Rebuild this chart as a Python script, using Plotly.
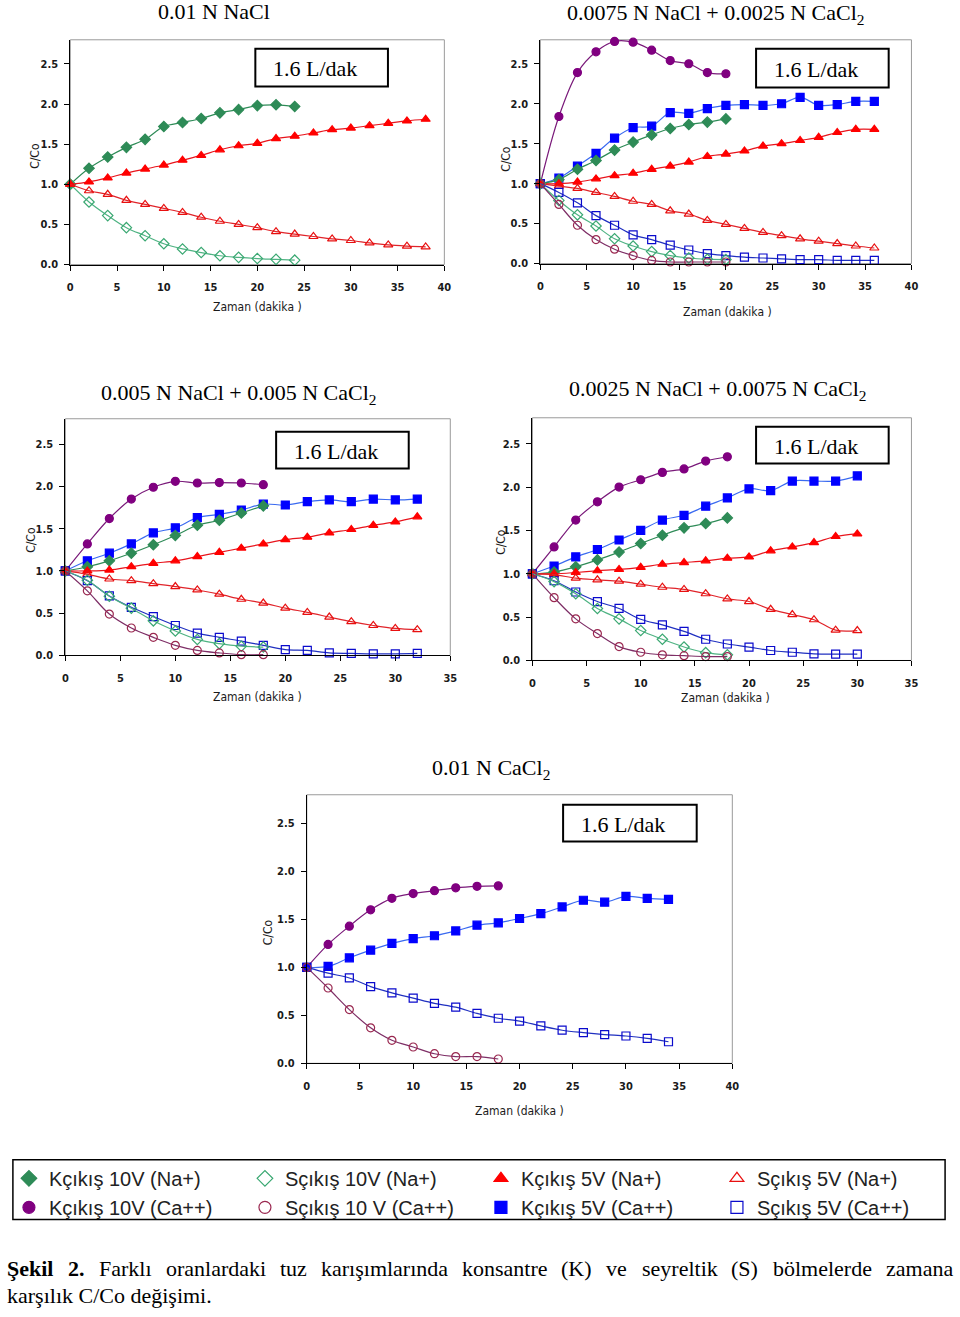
import plotly.graph_objects as go

W, H = 960, 1317

# ---------------- data (time in minutes, C/Co) ----------------
T18 = [0, 2, 4, 6, 8, 10, 12, 14, 16, 18]
T20 = [0, 2, 4, 6, 8, 10, 12, 14, 16, 18, 20]
T24 = [0, 2, 4, 6, 8, 10, 12, 14, 16, 18, 20, 22, 24]
T30 = [0, 2, 4, 6, 8, 10, 12, 14, 16, 18, 20, 22, 24, 26, 28, 30]
T32 = [0, 2, 4, 6, 8, 10, 12, 14, 16, 18, 20, 22, 24, 26, 28, 30, 32]
T34 = [0, 2, 4, 6, 8, 10, 12, 14, 16, 18, 20, 22, 24, 26, 28, 30, 32, 34]
T36 = [0, 2, 4, 6, 8, 10, 12, 14, 16, 18, 20, 22, 24, 26, 28, 30, 32, 34, 36]
T38 = [0, 2, 4, 6, 8, 10, 12, 14, 16, 18, 20, 22, 24, 26, 28, 30, 32, 34, 36, 38]

# Panel 1: 0.01 N NaCl
p1_k10_na = [1.0, 1.20, 1.34, 1.46, 1.56, 1.72, 1.77, 1.82, 1.89, 1.93, 1.98, 1.99, 1.97]
p1_s10_na = [1.0, 0.78, 0.61, 0.46, 0.36, 0.26, 0.195, 0.15, 0.11, 0.09, 0.075, 0.065, 0.055]
p1_k5_na = [1.0, 1.03, 1.08, 1.14, 1.19, 1.24, 1.30, 1.36, 1.43, 1.48, 1.51, 1.57, 1.60, 1.64,
            1.68, 1.70, 1.73, 1.76, 1.79, 1.81]
p1_s5_na = [1.0, 0.92, 0.875, 0.80, 0.75, 0.70, 0.65, 0.59, 0.54, 0.50, 0.46, 0.41, 0.38, 0.35,
            0.32, 0.30, 0.27, 0.245, 0.23, 0.22]

# Panel 2: 0.0075 N NaCl + 0.0025 N CaCl2
p2_k10_ca = [1.0, 1.84, 2.39, 2.65, 2.78, 2.77, 2.67, 2.54, 2.50, 2.39, 2.375]
p2_k10_na = [1.0, 1.05, 1.18, 1.29, 1.42, 1.52, 1.61, 1.69, 1.74, 1.77, 1.81]
p2_s10_na = [1.0, 0.79, 0.61, 0.47, 0.31, 0.22, 0.15, 0.10, 0.07, 0.055, 0.05]
p2_s10_ca = [1.0, 0.74, 0.48, 0.30, 0.18, 0.10, 0.04, 0.02, 0.02, 0.02, 0.02]
p2_k5_ca = [1.0, 1.07, 1.22, 1.38, 1.57, 1.70, 1.72, 1.89, 1.88, 1.94, 1.98, 1.99, 1.98, 2.0,
            2.08, 1.98, 1.99, 2.03, 2.03]
p2_k5_na = [1.0, 1.0, 1.02, 1.06, 1.10, 1.13, 1.18, 1.22, 1.27, 1.34, 1.37, 1.41, 1.47, 1.50,
            1.54, 1.58, 1.64, 1.68, 1.68]
p2_s5_na = [1.0, 0.97, 0.94, 0.89, 0.84, 0.78, 0.74, 0.66, 0.62, 0.54, 0.49, 0.44, 0.39, 0.35,
            0.31, 0.28, 0.25, 0.22, 0.195]
p2_s5_ca = [1.0, 0.89, 0.76, 0.60, 0.48, 0.36, 0.30, 0.23, 0.17, 0.125, 0.10, 0.08, 0.07, 0.06,
            0.05, 0.05, 0.04, 0.04, 0.04]

# Panel 3: 0.005 N NaCl + 0.005 N CaCl2
p3_k10_ca = [1.0, 1.32, 1.62, 1.85, 1.99, 2.06, 2.04, 2.045, 2.04, 2.02]
p3_k10_na = [1.0, 1.05, 1.12, 1.21, 1.31, 1.42, 1.54, 1.60, 1.685, 1.77]
p3_s10_na = [1.0, 0.89, 0.70, 0.56, 0.41, 0.29, 0.19, 0.14, 0.11, 0.10]
p3_s10_ca = [1.0, 0.765, 0.49, 0.325, 0.215, 0.12, 0.06, 0.03, 0.01, 0.01]
p3_k5_ca = [1.0, 1.12, 1.21, 1.32, 1.45, 1.51, 1.63, 1.67, 1.72, 1.79, 1.78, 1.82, 1.84, 1.82,
            1.85, 1.84, 1.85]
p3_k5_na = [1.0, 1.0, 1.01, 1.05, 1.09, 1.12, 1.17, 1.22, 1.27, 1.32, 1.37, 1.40, 1.45, 1.49,
            1.54, 1.58, 1.64]
p3_s5_na = [1.0, 0.96, 0.905, 0.885, 0.85, 0.815, 0.775, 0.725, 0.665, 0.62, 0.56, 0.51, 0.455,
            0.40, 0.355, 0.32, 0.305]
p3_s5_ca = [1.0, 0.885, 0.705, 0.57, 0.46, 0.355, 0.265, 0.215, 0.17, 0.12, 0.07, 0.06, 0.03,
            0.025, 0.02, 0.02, 0.025]

# Panel 4: 0.0025 N NaCl + 0.0075 N CaCl2
p4_k10_ca = [1.0, 1.31, 1.62, 1.83, 2.0, 2.085, 2.17, 2.21, 2.30, 2.35]
p4_k10_na = [1.0, 1.02, 1.08, 1.16, 1.25, 1.35, 1.445, 1.53, 1.58, 1.645]
p4_s10_na = [1.0, 0.91, 0.77, 0.60, 0.48, 0.345, 0.245, 0.155, 0.09, 0.065]
p4_s10_ca = [1.0, 0.725, 0.48, 0.31, 0.16, 0.095, 0.065, 0.055, 0.045, 0.045]
p4_k5_ca = [1.0, 1.09, 1.195, 1.28, 1.39, 1.50, 1.62, 1.675, 1.78, 1.875, 1.98, 1.96, 2.07, 2.07,
            2.07, 2.13]
p4_k5_na = [1.0, 1.0, 1.015, 1.035, 1.05, 1.075, 1.11, 1.13, 1.15, 1.18, 1.195, 1.265, 1.31, 1.36,
            1.43, 1.46]
p4_s5_na = [1.0, 0.99, 0.95, 0.93, 0.915, 0.88, 0.845, 0.82, 0.77, 0.71, 0.68, 0.59, 0.53, 0.47,
            0.35, 0.345]
p4_s5_ca = [1.0, 0.92, 0.79, 0.68, 0.60, 0.475, 0.41, 0.335, 0.245, 0.19, 0.155, 0.115, 0.095,
            0.077, 0.073, 0.073]

# Panel 5: 0.01 N CaCl2
p5_k10_ca = [1.0, 1.24, 1.43, 1.60, 1.72, 1.77, 1.80, 1.83, 1.845, 1.85]
p5_s10_ca = [1.0, 0.785, 0.56, 0.37, 0.24, 0.17, 0.10, 0.07, 0.07, 0.045]
p5_k5_ca = [1.0, 1.01, 1.10, 1.18, 1.25, 1.30, 1.33, 1.38, 1.44, 1.465, 1.51, 1.56, 1.63, 1.70,
            1.68, 1.74, 1.72, 1.71]
p5_s5_ca = [1.0, 0.94, 0.89, 0.80, 0.735, 0.68, 0.625, 0.585, 0.52, 0.47, 0.44, 0.39, 0.345,
            0.32, 0.30, 0.285, 0.26, 0.225]

titles = ["0.01 N NaCl",
          "0.0075 N NaCl + 0.0025 N CaCl<sub>2</sub>",
          "0.005 N NaCl + 0.005 N CaCl<sub>2</sub>",
          "0.0025 N NaCl + 0.0075 N CaCl<sub>2</sub>",
          "0.01 N CaCl<sub>2</sub>"]
flow_label = "1.6 L/dak"
y_ticks = [0, 0.5, 1.0, 1.5, 2.0, 2.5]
x_label = "Zaman (dakika )"
y_label = "C/Co"

legend_order = ["k10na", "s10na", "k5na", "s5na", "k10ca", "s10ca", "k5ca", "s5ca"]
legend_names = {
    "k10na": "Kçıkış 10V (Na+)", "s10na": "Sçıkış 10V (Na+)",
    "k5na": "Kçıkış 5V (Na+)", "s5na": "Sçıkış 5V (Na+)",
    "k10ca": "Kçıkış 10V (Ca++)", "s10ca": "Sçıkış 10 V (Ca++)",
    "k5ca": "Kçıkış 5V (Ca++)", "s5ca": "Sçıkış 5V (Ca++)",
}

caption_words_1 = ["<b>Şekil</b>", "<b>2.</b>", "Farklı", "oranlardaki", "tuz", "karışımlarında",
                   "konsantre", "(K)", "ve", "seyreltik", "(S)", "bölmelerde", "zamana"]
caption_line_2 = "karşılık C/Co değişimi."

# approximate Times advance widths (em) of the caption words, for justified placement
caption_word_em = [2.112, 0.75, 2.389, 4.554, 1.222, 5.777, 3.888, 1.388, 0.944, 3.444,
                   1.222, 4.499, 3.054]

# ---------------- styles ----------------
STY = {
    "k10na": dict(symbol="diamond", mc="#2E8B57", lc="#2E8B57"),
    "s10na": dict(symbol="diamond-open", mc="#3AA872", lc="#4FB383"),
    "k5na": dict(symbol="triangle-up", mc="#FF0000", lc="#E8141C"),
    "s5na": dict(symbol="triangle-up-open", mc="#E81010", lc="#E0242A"),
    "k10ca": dict(symbol="circle", mc="#800080", lc="#7A1A7A"),
    "s10ca": dict(symbol="circle-open", mc="#9A2850", lc="#7E2E66"),
    "k5ca": dict(symbol="square", mc="#0000FF", lc="#3A6AF0"),
    "s5ca": dict(symbol="square-open", mc="#0A0ACC", lc="#2030C0"),
}

# pixel boxes: (left, right, top, bottom) of plot area
panels = [
    dict(box=(68, 446, 40, 266), xmax=40, title=titles[0], tpos=(213, 12),
         flow=(255, 389, 49, 87), ylab=(33, 157), xlab=(257, 309),
         series=[("k10na", T24, p1_k10_na), ("s10na", T24, p1_s10_na),
                 ("k5na", T38, p1_k5_na), ("s5na", T38, p1_s5_na)]),
    dict(box=(543, 918, 40, 265), xmax=40, title=titles[1], tpos=(721, 14),
         flow=(761, 895, 49, 88), ylab=(508, 160), xlab=(732, 314),
         series=[("k10ca", T20, p2_k10_ca), ("k5ca", T36, p2_k5_ca),
                 ("k10na", T20, p2_k10_na), ("k5na", T36, p2_k5_na),
                 ("s5na", T36, p2_s5_na), ("s5ca", T36, p2_s5_ca),
                 ("s10na", T20, p2_s10_na), ("s10ca", T20, p2_s10_ca)]),
    dict(box=(63, 452, 421, 659), xmax=35, title=titles[2], tpos=(238, 396),
         flow=(276, 410, 434, 471), ylab=(28, 543), xlab=(257, 701),
         series=[("k10ca", T18, p3_k10_ca), ("k5ca", T32, p3_k5_ca),
                 ("k10na", T18, p3_k10_na), ("k5na", T32, p3_k5_na),
                 ("s5na", T32, p3_s5_na), ("s5ca", T32, p3_s5_ca),
                 ("s10na", T18, p3_s10_na), ("s10ca", T18, p3_s10_ca)]),
    dict(box=(535, 918, 420, 664), xmax=35, title=titles[3], tpos=(723, 392),
         flow=(761, 895, 429, 466), ylab=(503, 545), xlab=(730, 702),
         series=[("k10ca", T18, p4_k10_ca), ("k5ca", T30, p4_k5_ca),
                 ("k10na", T18, p4_k10_na), ("k5na", T30, p4_k5_na),
                 ("s5na", T30, p4_s5_na), ("s5ca", T30, p4_s5_ca),
                 ("s10na", T18, p4_s10_na), ("s10ca", T18, p4_s10_ca)]),
    dict(box=(307, 737, 799, 1069), xmax=40, title=titles[4], tpos=(493, 773),
         flow=(566, 701, 809, 846), ylab=(268, 937), xlab=(522, 1117),
         series=[("k10ca", T18, p5_k10_ca), ("k5ca", T34, p5_k5_ca),
                 ("s5ca", T34, p5_s5_ca), ("s10ca", T18, p5_s10_ca)]),
]


def px(x):
    return x / W


def py(y):
    return 1 - y / H


NARROW = "Liberation Sans Narrow, DejaVu Sans Condensed, Arial Narrow, sans-serif"
TICKFONT = dict(family=NARROW, size=11, color="#1a1a1a", weight="bold")
LABFONT = dict(family=NARROW, size=12, color="#1a1a1a")
SERIF = "Liberation Serif, Times New Roman, serif"

fig = go.Figure()
layout = dict(width=W, height=H, margin=dict(l=0, r=0, t=0, b=0),
              paper_bgcolor="white", plot_bgcolor="white")
shapes, annotations = [], []

for i, p in enumerate(panels):
    n = i + 1
    L, R, T, B = p["box"]
    xa = "xaxis" if n == 1 else f"xaxis{n}"
    ya = "yaxis" if n == 1 else f"yaxis{n}"
    xref = "x" if n == 1 else f"x{n}"
    yref = "y" if n == 1 else f"y{n}"
    layout[xa] = dict(domain=[px(L), px(R)], range=[0, p["xmax"]], dtick=5, tick0=0,
                      showgrid=False, zeroline=False, showline=True, linecolor="black",
                      linewidth=1, ticks="outside", ticklen=5, tickcolor="black",
                      tickfont=TICKFONT, ticklabelstandoff=7, anchor=yref, fixedrange=True)
    layout[ya] = dict(domain=[py(B), py(T)], range=[0, 2.8], tickvals=y_ticks,
                      tickformat=".1f", showgrid=False, zeroline=False, showline=True,
                      linecolor="black", linewidth=1, ticks="outside", ticklen=5,
                      tickcolor="black", tickfont=TICKFONT, ticklabelstandoff=4,
                      anchor=xref, fixedrange=True)
    # gray plot-area frame
    shapes.append(dict(type="rect", xref="paper", yref="paper", x0=px(L), x1=px(R),
                       y0=py(B), y1=py(T), line=dict(color="#9a9a9a", width=1), layer="below"))
    # flow-rate box
    fl, fr, ft, fb = p["flow"]
    shapes.append(dict(type="rect", xref="paper", yref="paper", x0=px(fl), x1=px(fr),
                       y0=py(fb), y1=py(ft), line=dict(color="black", width=2),
                       fillcolor="white", layer="above"))
    annotations.append(dict(text=flow_label, xref="paper", yref="paper", x=px(fl + 16),
                            y=py((ft + fb) / 2 + 1), xanchor="left", yanchor="middle",
                            showarrow=False, font=dict(family=SERIF, size=22, color="black")))
    annotations.append(dict(text=p["title"], xref="paper", yref="paper", x=px(p["tpos"][0]),
                            y=py(p["tpos"][1]), xanchor="center", yanchor="middle",
                            showarrow=False, font=dict(family=SERIF, size=22, color="black")))
    annotations.append(dict(text=y_label, xref="paper", yref="paper", x=px(p["ylab"][0]),
                            y=py(p["ylab"][1]), textangle=-90, xanchor="center",
                            yanchor="middle", showarrow=False, font=LABFONT))
    annotations.append(dict(text=x_label, xref="paper", yref="paper", x=px(p["xlab"][0]),
                            y=py(p["xlab"][1]), xanchor="center", yanchor="middle",
                            showarrow=False, font=LABFONT))
    for key, xs, ys in p["series"]:
        s = STY[key]
        fig.add_trace(go.Scatter(
            x=xs, y=ys, mode="lines+markers", xaxis=xref, yaxis=yref, showlegend=False,
            name=legend_names[key], cliponaxis=False,
            line=dict(color=s["lc"], width=1.2, shape="spline", smoothing=1.0),
            marker=dict(symbol=s["symbol"], size=8, color=s["mc"],
                        line=dict(color=s["mc"], width=1.2))))

# legend-only traces
for key in legend_order:
    s = STY[key]
    fig.add_trace(go.Scatter(
        x=[None], y=[None], mode="markers", name=legend_names[key], showlegend=True,
        marker=dict(symbol=s["symbol"], size=12, color=s["mc"],
                    line=dict(color=s["mc"], width=1.2))))

# legend frame
shapes.append(dict(type="rect", xref="paper", yref="paper", x0=px(10), x1=px(952),
                   y0=py(1226), y1=py(1166), line=dict(color="black", width=1.5),
                   layer="below"))
layout["legend"] = dict(orientation="h", x=px(6), y=py(1165), xanchor="left", yanchor="top",
                        entrywidth=191, entrywidthmode="pixels", itemwidth=30,
                        bgcolor="rgba(0,0,0,0)", borderwidth=0,
                        font=dict(family="Liberation Sans, Arial, sans-serif", size=20,
                                  color="#222"),
                        traceorder="normal")

# caption: line 1 justified between x=2 and x=957, line 2 left aligned
CAP = 22
left, right = 2, 957
widths = [e * CAP for e in caption_word_em]
gap = (right - left - sum(widths)) / (len(widths) - 1)
xpos = left
for w, wd in zip(caption_words_1, widths):
    annotations.append(dict(text=w, xref="paper", yref="paper", x=px(xpos), y=py(1275),
                            xanchor="left", yanchor="middle", showarrow=False,
                            font=dict(family=SERIF, size=CAP, color="black")))
    xpos += wd + gap
annotations.append(dict(text=caption_line_2, xref="paper", yref="paper", x=px(2), y=py(1302),
                        xanchor="left", yanchor="middle", showarrow=False,
                        font=dict(family=SERIF, size=CAP, color="black")))

layout["shapes"] = shapes
layout["annotations"] = annotations
fig.update_layout(**layout)

POST = ("document.documentElement.style.margin='0';"
        "document.documentElement.style.overflow='hidden';"
        "document.body.style.margin='0';document.body.style.padding='0';"
        "document.body.style.overflow='hidden';"
        "var d=document.getElementById('{plot_id}');"
        "d.style.position='fixed';d.style.left='0px';d.style.top='0px';")
fig.write_html("out.html", config={"displayModeBar": False}, post_script=POST)
